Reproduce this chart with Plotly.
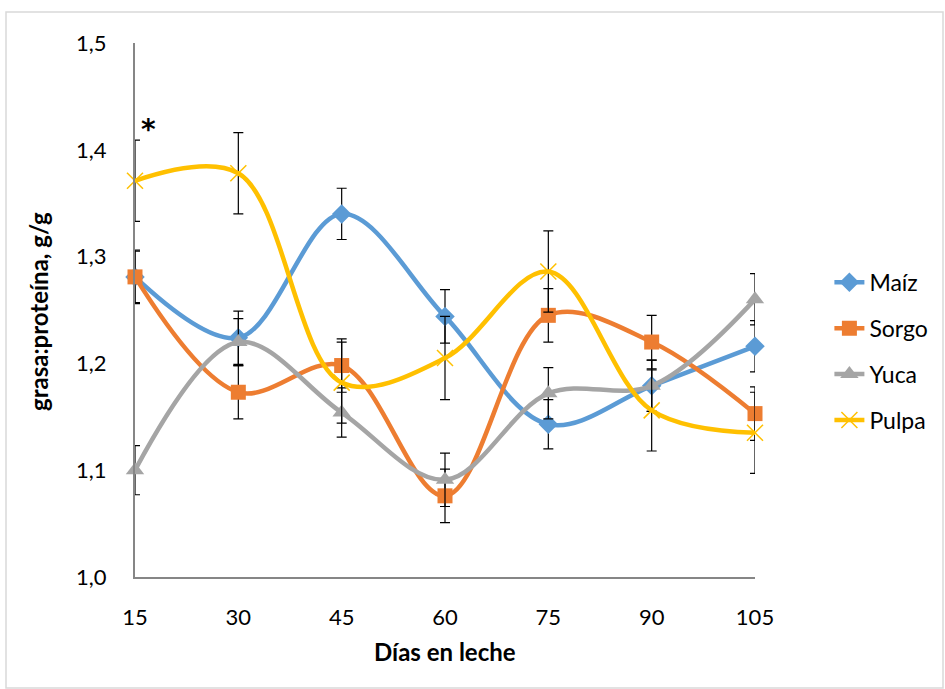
import plotly.graph_objects as go

dias = [15, 30, 45, 60, 75, 90, 105]
maiz = [1.281, 1.224, 1.340, 1.244, 1.143, 1.179, 1.216]
sorgo = [1.281, 1.173, 1.198, 1.076, 1.245, 1.220, 1.153]
yuca = [1.100, 1.220, 1.154, 1.091, 1.172, 1.179, 1.260]
pulpa = [1.371, 1.378, 1.182, 1.205, 1.286, 1.156, 1.135]

err_maiz = [0.024, 0.025, 0.024, 0.025, 0.023, 0.024, 0.024]
err_sorgo = [0.025, 0.025, 0.025, 0.025, 0.025, 0.025, 0.025]
err_yuca = [0.023, 0.022, 0.023, 0.025, 0.024, 0.024, 0.024]
err_pulpa = [0.038, 0.038, 0.038, 0.039, 0.038, 0.038, 0.038]

series = [
    ("Maíz", maiz, err_maiz, "#5B9BD5", "diamond", 15),
    ("Sorgo", sorgo, err_sorgo, "#ED7D31", "square", 15),
    ("Yuca", yuca, err_yuca, "#A5A5A5", "triangle-up", 16),
    ("Pulpa", pulpa, err_pulpa, "#FFC000", "x-thin", 16),
]

fig = go.Figure()
for name, vals, err, color, sym, size in series:
    marker = dict(symbol=sym, size=size, color=color)
    if sym == "x-thin":
        marker["line"] = dict(color=color, width=1.5)
    fig.add_trace(go.Scatter(
        x=dias, y=vals, name=name, mode="lines+markers",
        line=dict(color=color, width=4.5, shape="spline", smoothing=1.0),
        marker=marker,
        error_y=dict(type="data", array=err, visible=True, color="black",
                     thickness=1.2, width=5),
        cliponaxis=False, legendgroup=name,
    ))

fig.update_layout(
    width=945, height=689,
    margin=dict(l=135, r=190, t=43, b=112),
    paper_bgcolor="white", plot_bgcolor="white",
    separators=",.",
    font=dict(family="Lato", size=22, color="black"),
    showlegend=True,
    legend=dict(x=1.12, y=0.592, xanchor="left", yanchor="top",
                font=dict(family="Lato", size=23), tracegroupgap=13,
                bgcolor="rgba(0,0,0,0)"),
    xaxis=dict(range=[15, 105], tickvals=dias, ticktext=[str(d) for d in dias],
               showgrid=False, zeroline=False, showline=True,
               linecolor="#868686", linewidth=2, ticks="",
               ticklabelstandoff=20),
    yaxis=dict(range=[1.0, 1.5], dtick=0.1, tickformat=".1f",
               showgrid=False, zeroline=False, showline=True,
               linecolor="#868686", linewidth=2, ticks="",
               ticklabelstandoff=22),
    shapes=[dict(type="rect", xref="paper", yref="paper",
                 x0=(6 - 135) / 620, x1=(943 - 135) / 620,
                 y0=(577 - 688) / 534, y1=(577 - 12) / 534,
                 line=dict(color="#D9D9D9", width=1.5))],
    annotations=[
        dict(text="<b>Días en leche</b>", xref="paper", yref="paper",
             x=(445 - 135) / 620, y=(577 - 651) / 534, showarrow=False,
             font=dict(family="Lato", size=24), xanchor="center", yanchor="middle"),
        dict(text="<b>grasa:proteína, g/g</b>", xref="paper", yref="paper",
             x=(38 - 135) / 620, y=(577 - 312) / 534, showarrow=False, textangle=-90,
             font=dict(family="Lato", size=24), xanchor="center", yanchor="middle"),
        dict(text="<b>*</b>", xref="paper", yref="paper",
             x=(148 - 135) / 620, y=(577 - 130) / 534, showarrow=False,
             font=dict(family="DejaVu Sans", size=28), xanchor="center", yanchor="middle"),
    ],
)

fig.write_html("out.html")
